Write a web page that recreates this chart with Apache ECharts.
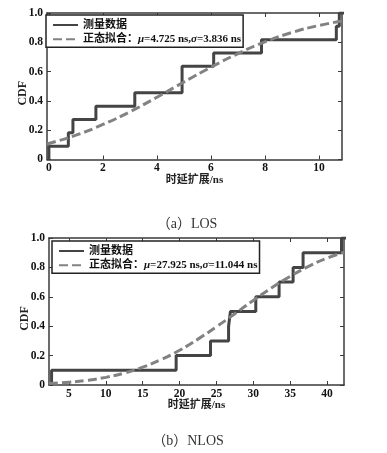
<!DOCTYPE html>
<html>
<head>
<meta charset="utf-8">
<script src="https://cdn.jsdelivr.net/npm/echarts@6/dist/echarts.min.js"></script>
<style>
html,body{margin:0;padding:0;background:#fff;}
#main{width:387px;height:453px;}
</style>
</head>
<body>
<div id="main"></div>
<script>
// ---- Data ----
// (a) LOS: measured empirical CDF (jump positions, ns) and levels
const losStepX = [0, 0, 0.72, 0.89, 1.74, 3.18, 4.93, 6.10, 7.87, 10.64, 10.75, 10.95];
const losStepY = [0, 0.091, 0.182, 0.273, 0.364, 0.455, 0.636, 0.727, 0.818, 0.909, 1.0, 1.0];
// (a) LOS: normal-fit curve
const losFitX = [-0.07, 0, 1, 2, 3, 4, 5, 6, 7, 8, 9, 10, 10.85];
const losFitY = [0.106, 0.109, 0.166, 0.239, 0.326, 0.425, 0.529, 0.630, 0.723, 0.803, 0.867, 0.915, 0.945];
// (b) NLOS: measured empirical CDF
const nlosStepX = [2.65, 2.65, 19.54, 24.2, 26.65, 26.9, 30.34, 33.5, 35.4, 36.75, 41.96, 42.6];
const nlosStepY = [0, 0.1, 0.2, 0.3, 0.4, 0.5, 0.6, 0.7, 0.8, 0.9, 1.0, 1.0];
// (b) NLOS: normal-fit curve
const nlosFitX = [2.3, 5, 7.5, 10, 12.5, 15, 17.5, 20, 22.5, 25, 27.5, 30, 32.5, 35, 37.5, 40, 42.3];
const nlosFitY = [0.010, 0.019, 0.032, 0.052, 0.081, 0.121, 0.173, 0.236, 0.312, 0.396, 0.485, 0.575, 0.661, 0.739, 0.807, 0.863, 0.903];

// Tick labels
const losXTicks = [0, 2, 4, 6, 8, 10];
const nlosXTicks = [5, 10, 15, 20, 25, 30, 35, 40];
const yTicks = [0, 0.2, 0.4, 0.6, 0.8, 1.0];

// Texts
const measName = '测量数据';
const losFitName = '正态拟合：μ=4.725 ns,σ=3.836 ns';
const nlosFitName = '正态拟合：μ=27.925 ns,σ=11.044 ns';
const xTitle = '时延扩展/ns';
const yTitle = 'CDF';
const capA = '（a）LOS';
const capB = '（b）NLOS';

// ---- Build ----
const zip = (xs, ys) => xs.map((x, i) => [x, ys[i]]);
const SERIF = '"Liberation Serif", "Times New Roman", "Noto Sans CJK SC", serif';
const MIX = '"Liberation Serif", "Noto Sans CJK SC", serif';
const AX = '#3a3a3a';

function xAx(gi, min, max, ticks, withLabels) {
  return {
    type: 'value', gridIndex: gi, min: min, max: max,
    position: withLabels ? 'bottom' : 'top',
    splitLine: { show: false },
    axisLine: { show: true, onZero: false, lineStyle: { color: AX, width: 1.5 } },
    axisTick: { show: true, inside: true, length: 4, customValues: ticks, lineStyle: { color: AX, width: 1 } },
    axisLabel: withLabels ? {
      show: true, customValues: ticks, margin: 3,
      fontFamily: SERIF, fontWeight: 'bold', fontSize: 11.5, color: '#111'
    } : { show: false },
    name: withLabels ? xTitle : '',
    nameLocation: 'middle',
    nameGap: withLabels ? 15 : 0,
    nameMoveOverlap: false,
    nameTextStyle: { fontFamily: MIX, fontWeight: 'bold', fontSize: 11, color: '#222', verticalAlign: 'top' }
  };
}
function yAx(gi, withLabels) {
  return {
    type: 'value', gridIndex: gi, min: 0, max: 1, interval: 0.2,
    position: withLabels ? 'left' : 'right',
    splitLine: { show: false },
    axisLine: { show: true, onZero: false, lineStyle: { color: AX, width: 1.5 } },
    axisTick: { show: true, inside: true, length: 4, lineStyle: { color: AX, width: 1 } },
    axisLabel: withLabels ? {
      show: true, margin: 4,
      fontFamily: SERIF, fontWeight: 'bold', fontSize: 11.5, color: '#111',
      formatter: v => (v === 0 ? '0' : v.toFixed(1))
    } : { show: false },
    name: withLabels ? yTitle : '',
    nameLocation: 'middle',
    nameGap: 18,
    nameRotate: 90,
    nameMoveOverlap: false,
    nameTextStyle: { fontFamily: SERIF, fontWeight: 'bold', fontSize: 12, color: '#222', padding: [0, 14, 0, 0] }
  };
}

const stepStyle = { color: '#444444', width: 3 };
const fitStyle = { color: '#828282', width: 3, type: [9, 4] };

function legend(left, top, names) {
  return {
    left: left, top: top, orient: 'vertical',
    data: names,
    backgroundColor: '#fff',
    borderColor: '#222', borderWidth: 1.5, borderRadius: 0,
    padding: [4, 2, 2, 6],
    itemWidth: 25, itemHeight: 12, itemGap: 2.3,
    selectedMode: false,
    itemStyle: { opacity: 0, color: 'rgba(0,0,0,0)', borderWidth: 0 },
    textStyle: {
      fontFamily: MIX, fontWeight: 'bold', fontSize: 11, color: '#111', lineHeight: 12,
      rich: { i: { fontFamily: SERIF, fontStyle: 'italic', fontWeight: 'bold', fontSize: 11, color: '#111' } }
    },
    formatter: n => n.replace('μ', '{i|μ}').replace('σ', '{i|σ}')
  };
}

const capStyle = { fontFamily: MIX, fontWeight: 'normal', fontSize: 14, color: '#333' };

const option = {
  animation: false,
  backgroundColor: '#fff',
  grid: [
    { left: 47, top: 13, width: 295, height: 146.5 },
    { left: 49, top: 238, width: 295, height: 147 }
  ],
  xAxis: [
    xAx(0, -0.07, 10.85, losXTicks, true),
    xAx(0, -0.07, 10.85, losXTicks, false),
    xAx(1, 2.3, 42.3, nlosXTicks, true),
    xAx(1, 2.3, 42.3, nlosXTicks, false)
  ],
  yAxis: [
    yAx(0, true), yAx(0, false), yAx(1, true), yAx(1, false)
  ],
  legend: [
    legend(46, 15, [measName, losFitName]),
    legend(52, 241, [measName, nlosFitName])
  ],
  title: [
    { text: capA, left: 182, top: 212, textAlign: 'center', textStyle: capStyle },
    { text: capB, left: 183, top: 429, textAlign: 'center', textStyle: capStyle }
  ],
  series: [
    { name: measName, type: 'line', xAxisIndex: 0, yAxisIndex: 0, step: 'end', symbol: 'none',
      lineStyle: stepStyle, itemStyle: { color: stepStyle.color }, data: zip(losStepX, losStepY), z: 2 },
    { name: losFitName, type: 'line', xAxisIndex: 0, yAxisIndex: 0, smooth: true, symbol: 'none',
      lineStyle: fitStyle, itemStyle: { color: fitStyle.color }, data: zip(losFitX, losFitY), z: 3 },
    { name: measName, type: 'line', xAxisIndex: 2, yAxisIndex: 2, step: 'end', symbol: 'none',
      lineStyle: stepStyle, itemStyle: { color: stepStyle.color }, data: zip(nlosStepX, nlosStepY), z: 2 },
    { name: nlosFitName, type: 'line', xAxisIndex: 2, yAxisIndex: 2, smooth: true, symbol: 'none',
      lineStyle: fitStyle, itemStyle: { color: fitStyle.color }, data: zip(nlosFitX, nlosFitY), z: 3 }
  ]
};

const chart = echarts.init(document.getElementById('main'), null, { renderer: 'canvas' });
chart.setOption(option);
</script>
</body>
</html>
